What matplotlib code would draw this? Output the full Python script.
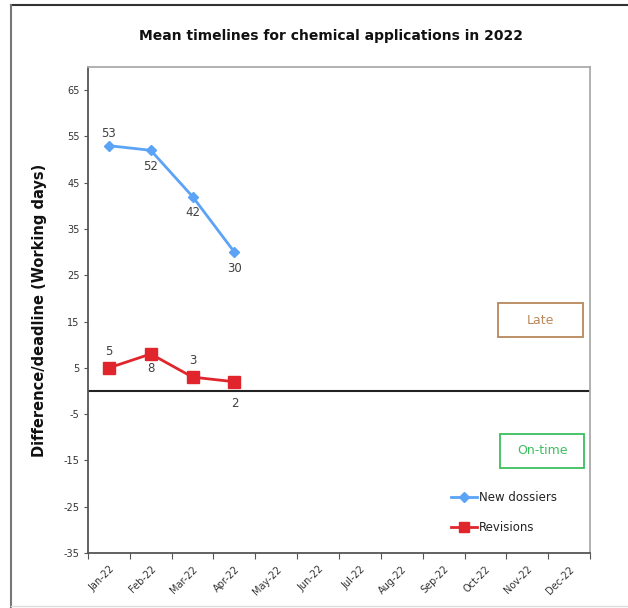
import matplotlib
matplotlib.use("Agg")
import matplotlib.pyplot as plt
from matplotlib.lines import Line2D
from matplotlib.patches import Rectangle

months = ["Jan-22", "Feb-22", "Mar-22", "Apr-22", "May-22", "Jun-22",
          "Jul-22", "Aug-22", "Sep-22", "Oct-22", "Nov-22", "Dec-22"]
new_dossiers = [53, 52, 42, 30]
revisions = [5, 8, 3, 2]
new_label_pos = ["above", "below", "below", "below"]
rev_label_pos = ["above", "below", "above", "below"]
yticks = [-35, -25, -15, -5, 5, 15, 25, 35, 45, 55, 65]

W, H = 628, 608
fig = plt.figure(figsize=(W / 100, H / 100), dpi=100)
fig.patch.set_facecolor("white")

ax = fig.add_axes([88 / W, 1 - 553 / H, (590 - 88) / W, (553 - 67) / H])
ax.set_xlim(-0.5, 11.5)
ax.set_ylim(-35, 70)

blue = "#5ba3f7"
red = "#e0262c"
x_new = list(range(len(new_dossiers)))
x_rev = list(range(len(revisions)))
ax.plot(x_new, new_dossiers, color=blue, lw=2, marker="D", ms=5.5,
        label="New dossiers", zorder=3)
ax.plot(x_rev, revisions, color=red, lw=2, marker="s", ms=8.5,
        label="Revisions", zorder=3)

ax.axhline(0, color="#222222", lw=1.5, zorder=2)

for x, v, p in zip(x_new, new_dossiers, new_label_pos):
    ax.annotate(str(v), (x, v), xytext=(0, 4 if p == "above" else -7),
                textcoords="offset points", ha="center",
                va="bottom" if p == "above" else "top",
                fontsize=8.5, color="#404040")
rev_below_off = [-6, -6, -6, -11]
for i, (x, v, p) in enumerate(zip(x_rev, revisions, rev_label_pos)):
    ax.annotate(str(v), (x, v),
                xytext=(0, 7 if p == "above" else rev_below_off[i]),
                textcoords="offset points", ha="center",
                va="bottom" if p == "above" else "top",
                fontsize=8.5, color="#404040")

# axes styling
for s in ax.spines.values():
    s.set_color("#555555")
    s.set_linewidth(1.3)
ax.spines["right"].set_color("#aaaaaa")
ax.spines["top"].set_color("#aaaaaa")

ax.set_yticks(yticks)
ax.set_yticklabels([str(t) for t in yticks], fontsize=7, color="#333333")
ax.tick_params(axis="y", direction="out", length=3, color="#555555", pad=3)

ax.set_xticks([i - 0.5 for i in range(13)])
ax.set_xticklabels([])
ax.tick_params(axis="x", direction="out", length=4, color="#555555")
ax.set_xticks(range(12), minor=True)
ax.set_xticklabels(months, minor=True, rotation=45, ha="right",
                   rotation_mode="anchor", fontsize=7, color="#333333")
ax.tick_params(axis="x", which="minor", length=0, pad=8)

ax.set_ylabel("Difference/deadline (Working days)", fontsize=10.5,
              fontweight="bold", color="#111111", labelpad=12)

fig.text(331 / W, 1 - 36 / H,
         "Mean timelines for chemical applications in 2022",
         ha="center", va="center", fontsize=10, fontweight="bold",
         color="#111111")

# Late / On-time boxes
def box(x0, y0, x1, y1, text, color):
    fig.patches.append(Rectangle((x0 / W, 1 - y1 / H), (x1 - x0) / W,
                                 (y1 - y0) / H, transform=fig.transFigure,
                                 fill=False, edgecolor=color, lw=1.3))
    fig.text((x0 + x1) / 2 / W, 1 - (y0 + y1) / 2 / H, text, ha="center",
             va="center", fontsize=9, color=color)

box(498, 303, 583, 337, "Late", "#b8875b")
box(500, 434, 584, 468, "On-time", "#3cbf5e")

leg = ax.legend(loc="lower left", bbox_to_anchor=(440 / W, 1 - 545 / H),
                bbox_transform=fig.transFigure, frameon=False, fontsize=8.5,
                handlelength=2.2, handletextpad=0.2, labelspacing=1.5,
                markerscale=0.9)
for t in leg.get_texts():
    t.set_color("#222222")

# figure border lines
fig.add_artist(Line2D([11 / W, 1], [1 - 4.5 / H, 1 - 4.5 / H],
                      transform=fig.transFigure, color="#333333", lw=1.5))
fig.add_artist(Line2D([11 / W, 11 / W], [0, 1 - 4.5 / H],
                      transform=fig.transFigure, color="#777777", lw=1.5))
fig.add_artist(Line2D([11 / W, 1], [1 - 606 / H, 1 - 606 / H],
                      transform=fig.transFigure, color="#dddddd", lw=1))

fig.savefig("out.png", dpi=100, facecolor="white")
